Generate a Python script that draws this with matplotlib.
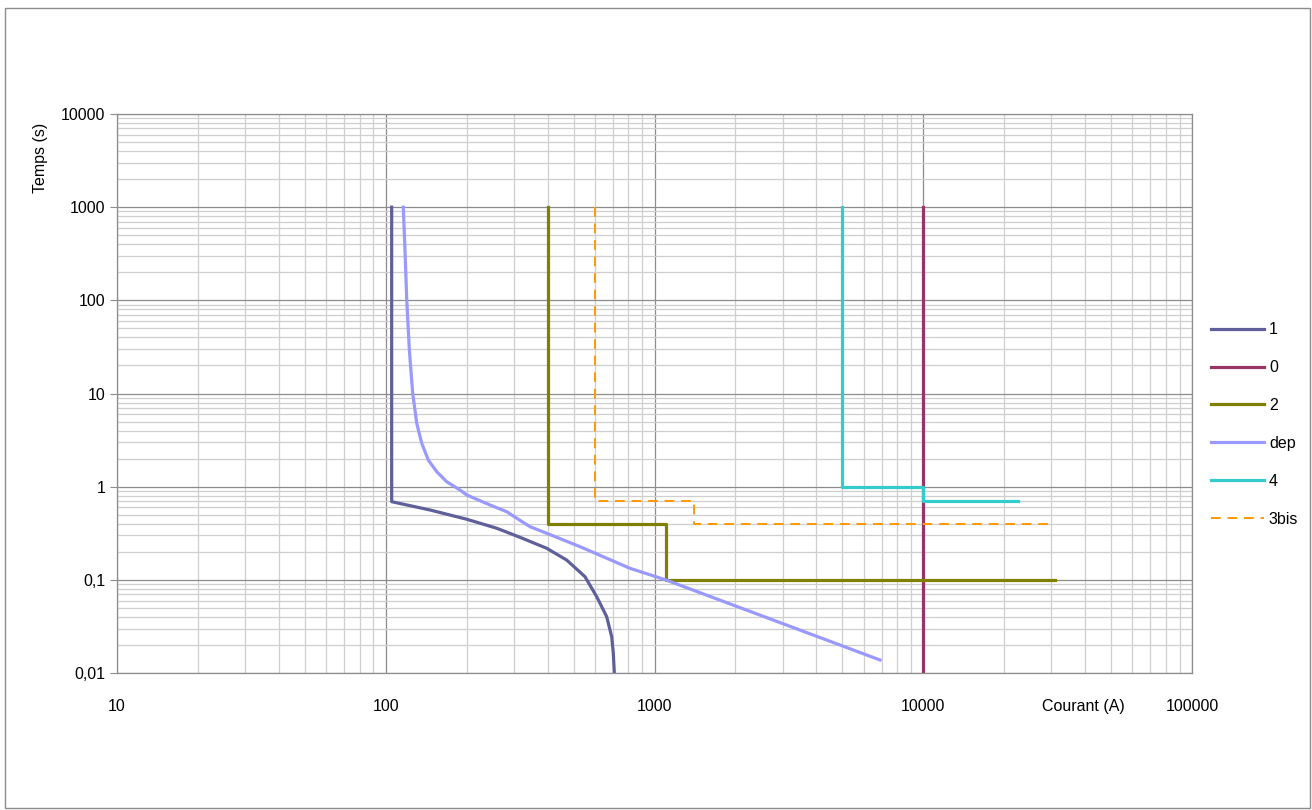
import numpy as np
import matplotlib.pyplot as plt
from matplotlib.ticker import LogLocator, FixedLocator, FixedFormatter, NullFormatter
from matplotlib.patches import Rectangle

plt.rcParams['font.family'] = ['Liberation Sans', 'DejaVu Sans']

# Curve data (current A, time s)
c1_x = [105.2, 105.2, 146.1, 200.1, 258.7, 315.9, 397.2, 471.3, 551.3, 609.5, 663.9, 693.0, 702.7, 708.7]
c1_y = [1000, 0.690, 0.562, 0.447, 0.358, 0.286, 0.218, 0.163, 0.108, 0.0659, 0.0402, 0.0245, 0.0163, 0.01]

c0_x = [10000, 10000]
c0_y = [1000, 0.01]

c2_x = [400, 400, 1100, 1100, 31000]
c2_y = [1000, 0.4, 0.4, 0.1, 0.1]

dep_x = [116.2, 117.9, 119.7, 122.4, 126.0, 130.4, 136.1, 144.0, 154.7, 168.6, 188.9, 200.1,
         244.3, 281.8, 307.1, 344.1, 397.2, 528.2, 810.3, 1100, 6900]
dep_y = [1000, 347, 100.8, 29.3, 10.0, 4.79, 2.92, 1.93, 1.45, 1.13, 0.921, 0.814,
         0.636, 0.539, 0.458, 0.372, 0.316, 0.227, 0.133, 0.1, 0.0138]

c4_x = [5000, 5000, 10000, 10000, 22500]
c4_y = [1000, 1.0, 1.0, 0.7, 0.7]

c3_x = [600, 600, 1400, 1400, 30000]
c3_y = [1000, 0.7, 0.7, 0.4, 0.4]

x_ticks = [10, 100, 1000, 10000, 100000]
x_labels = ['10', '100', '1000', '10000', '100000']
y_ticks = [0.01, 0.1, 1, 10, 100, 1000, 10000]
y_labels = ['0,01', '0,1', '1', '10', '100', '1000', '10000']

fig = plt.figure(figsize=(13.12, 8.1), dpi=100)
ax = fig.add_axes([117/1312, 1 - 673/810, (1192 - 117)/1312, (673 - 114)/810])

lw = 2.3
ax.plot(c1_x, c1_y, color='#5F5F99', lw=lw, label='1')
ax.plot(c0_x, c0_y, color='#993366', lw=lw, label='0')
ax.plot(c2_x, c2_y, color='#808000', lw=lw, label='2')
ax.plot(dep_x, dep_y, color='#9999FF', lw=lw, label='dep')
ax.plot(c4_x, c4_y, color='#33CCCC', lw=lw, label='4')
ax.plot(c3_x, c3_y, color='#FF9900', lw=1.4, ls=(0, (5, 3.5)), label='3bis')

ax.set_xscale('log')
ax.set_yscale('log')
ax.set_xlim(10, 100000)
ax.set_ylim(0.01, 10000)

ax.xaxis.set_major_locator(FixedLocator(x_ticks))
ax.xaxis.set_major_formatter(FixedFormatter(x_labels))
ax.yaxis.set_major_locator(FixedLocator(y_ticks))
ax.yaxis.set_major_formatter(FixedFormatter(y_labels))
ax.xaxis.set_minor_locator(LogLocator(base=10, subs=np.arange(2, 10), numticks=20))
ax.yaxis.set_minor_locator(LogLocator(base=10, subs=np.arange(2, 10), numticks=20))
ax.xaxis.set_minor_formatter(NullFormatter())
ax.yaxis.set_minor_formatter(NullFormatter())

ax.grid(True, which='major', color='#8c8c8c', lw=0.9)
ax.grid(True, which='minor', color='#cfcfcf', lw=0.9)
ax.set_axisbelow(True)
for s in ax.spines.values():
    s.set_color('#8c8c8c')
    s.set_linewidth(0.9)

ax.tick_params(axis='both', which='major', length=5, color='#8c8c8c', labelsize=11.5)
ax.tick_params(axis='x', which='major', length=0, pad=19)
ax.tick_params(axis='both', which='minor', length=0)

fig.text(1083 / 1312, 1 - 706 / 810, 'Courant (A)', ha='center', va='center', fontsize=11.5)
fig.text(40 / 1312, 1 - 158 / 810, 'Temps (s)', ha='center', va='center', fontsize=11.5, rotation=90)

fig.legend(loc='upper left', bbox_to_anchor=(1197 / 1312, 1 - 308 / 810), frameon=False,
           fontsize=11.5, handlelength=3.3, labelspacing=1.43, handletextpad=0.3)

fig.patches.append(Rectangle((5 / 1312, 1 - 808 / 810), 1305 / 1312, 800 / 810,
                             transform=fig.transFigure, fill=False, edgecolor='#8c8c8c', lw=1))

fig.savefig('out.png', dpi=100)
